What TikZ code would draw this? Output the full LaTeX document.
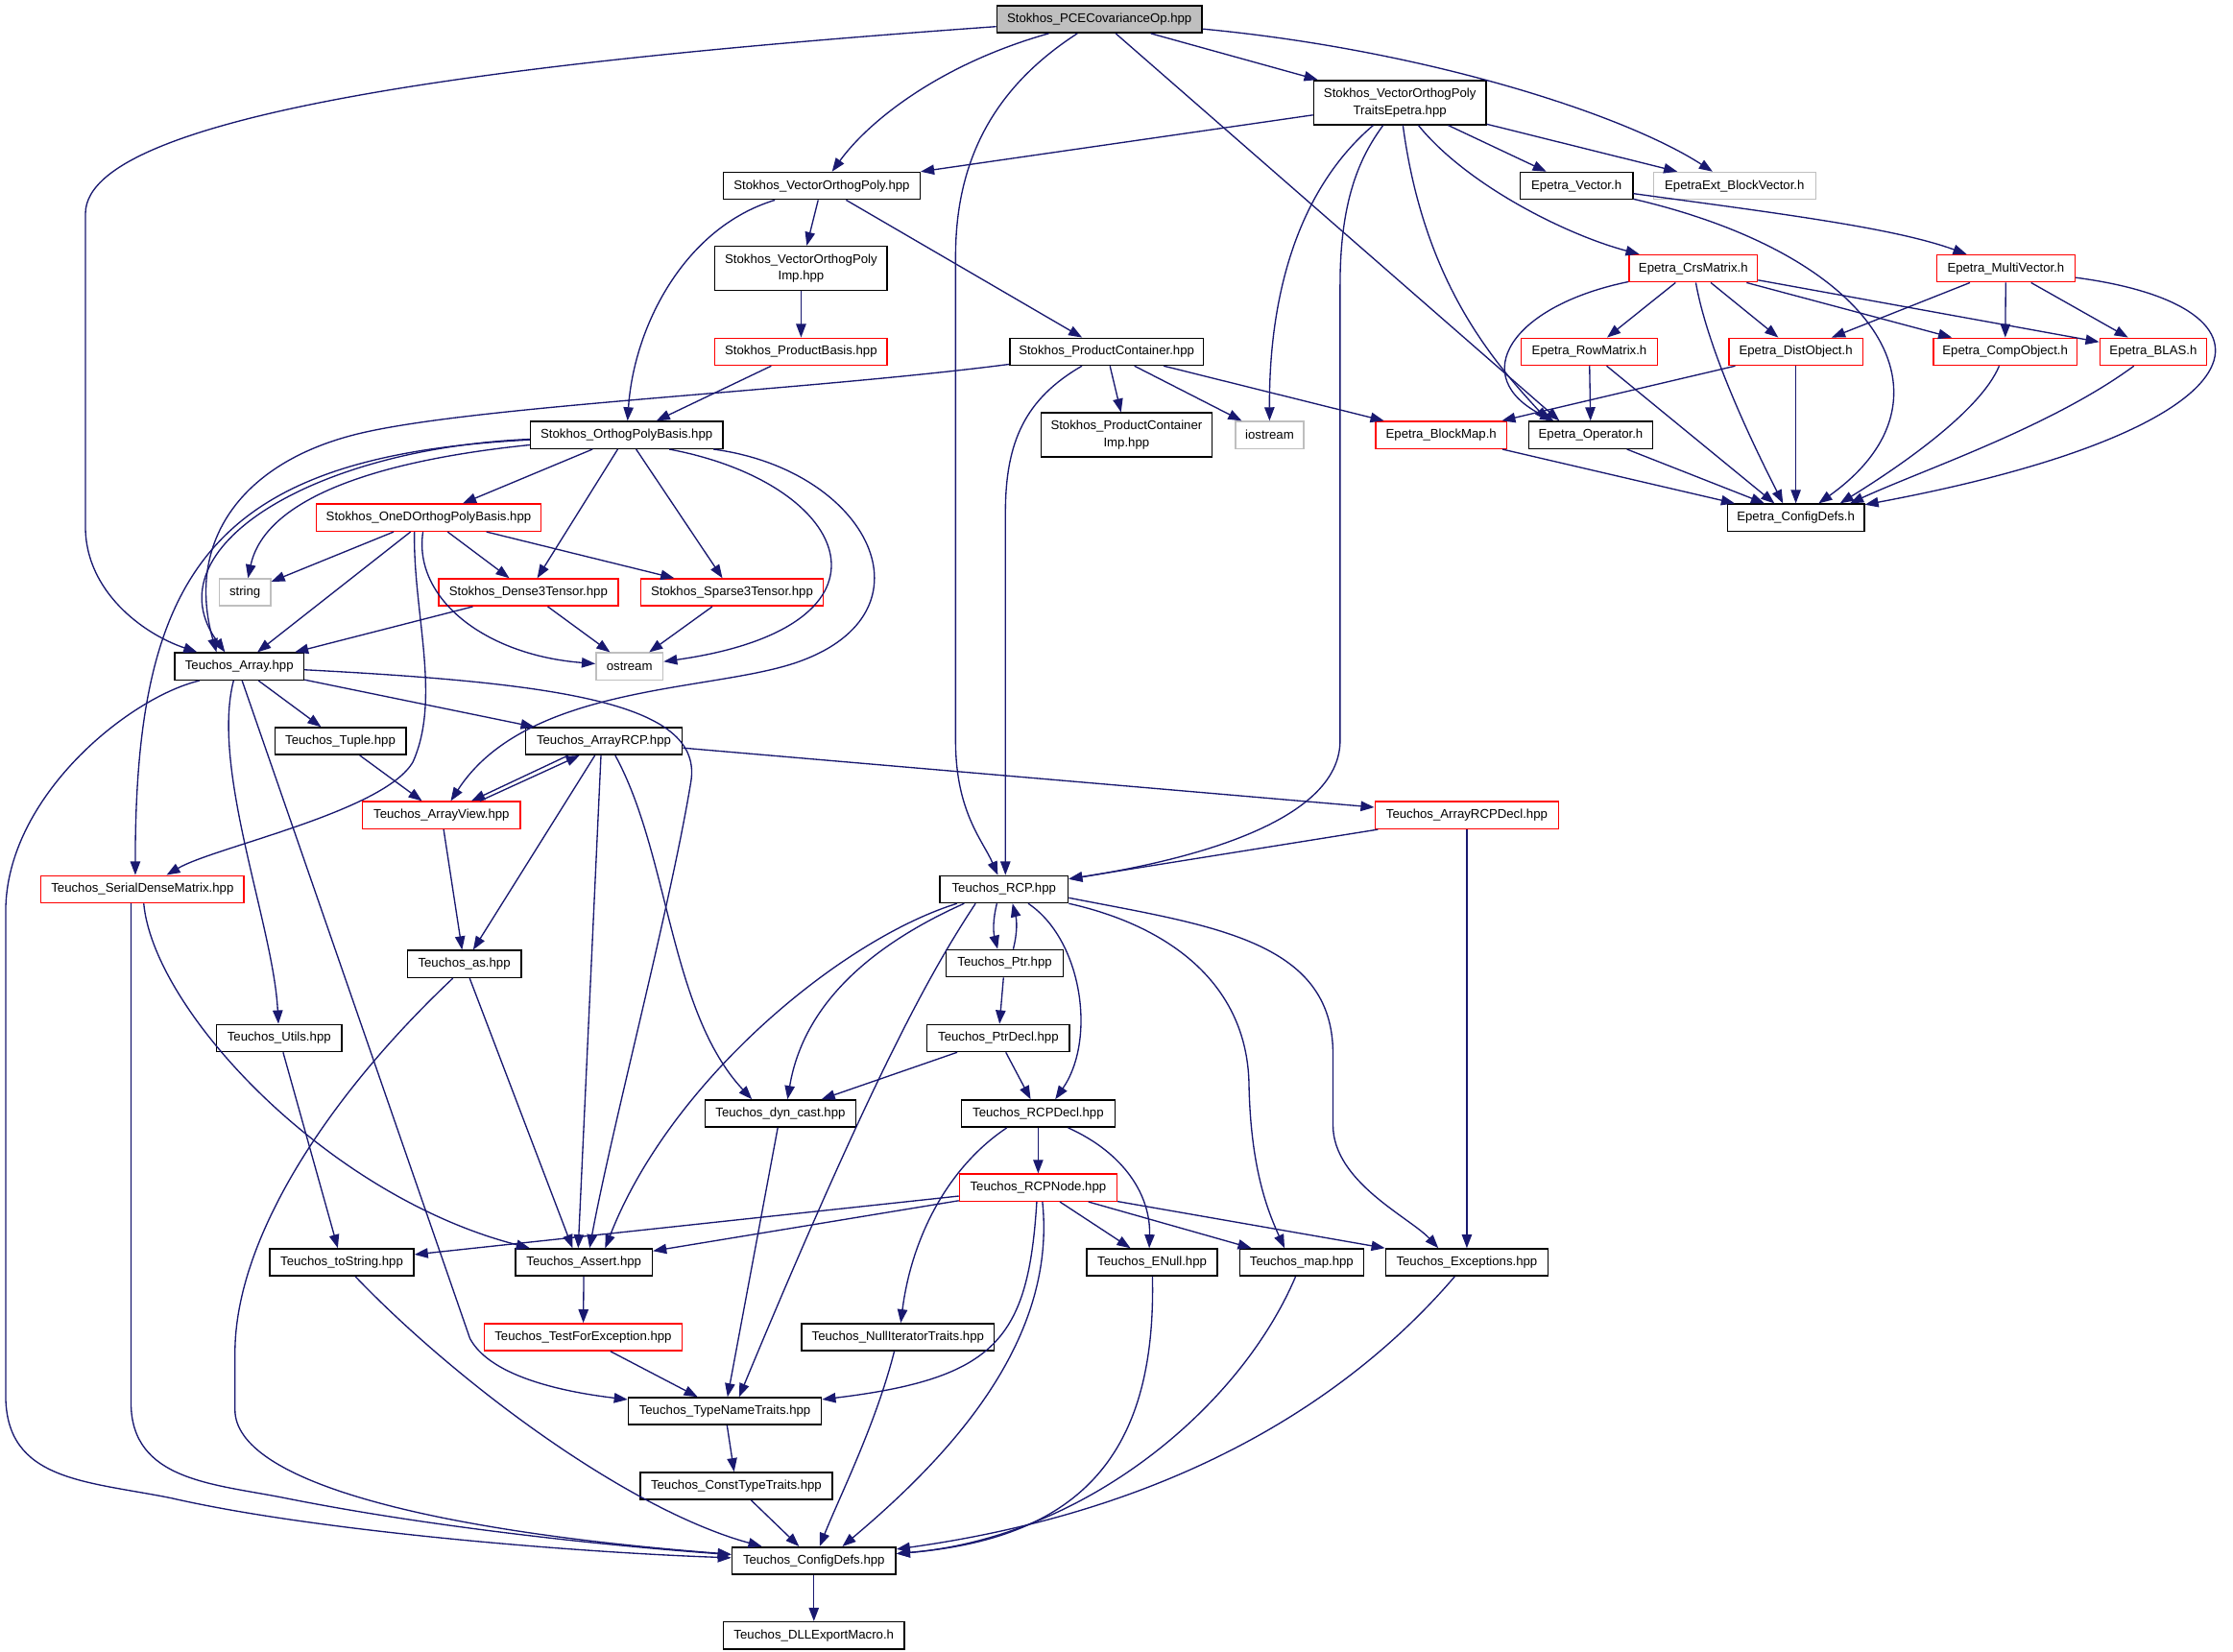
\documentclass[tikz,border=0pt]{standalone}
\usepackage{fontspec}
\setmainfont{Liberation Sans}
\usetikzlibrary{arrows.meta}
\definecolor{edgeblue}{HTML}{191970}
\definecolor{boxgray}{HTML}{BFBFBF}
\tikzset{
  box/.style={draw=black, line width=1pt, rectangle, fill=white, inner sep=0pt,
    minimum height=19pt, align=center, font=\fontsize{8.9}{12}\selectfont},
  redbox/.style={box, draw=red},
  graybox/.style={box, draw=boxgray},
  rootbox/.style={box, fill=boxgray},
  tall/.style={minimum height=31pt},
  edge/.style={draw=edgeblue, line width=0.9pt, -{Triangle[length=9.5pt,width=7pt]}},
}
\begin{document}
\begin{tikzpicture}[x=1pt,y=-1pt]
\fill[white] (0,0) rectangle (1568,1159.5);
\useasboundingbox (0,0) rectangle (1568,1159.5);

% Stokhos / Epetra headers
\node[rootbox, minimum width=144pt] (root) at (772,13.5) {Stokhos\_PCECovarianceOp.hpp};
\node[box, tall, minimum width=121pt] (traits) at (983,72) {Stokhos\_VectorOrthogPoly\\TraitsEpetra.hpp};
\node[box, minimum width=138pt] (vop) at (577,130.5) {Stokhos\_VectorOrthogPoly.hpp};
\node[box, minimum width=79pt] (evec) at (1107,130.5) {Epetra\_Vector.h};
\node[graybox, minimum width=114pt] (bvec) at (1218,130.5) {EpetraExt\_BlockVector.h};
\node[box, tall, minimum width=121pt] (vopimp) at (562.5,188.5) {Stokhos\_VectorOrthogPoly\\Imp.hpp};
\node[redbox, minimum width=90pt] (crs) at (1189,188.5) {Epetra\_CrsMatrix.h};
\node[redbox, minimum width=97pt] (mvec) at (1408.5,188.5) {Epetra\_MultiVector.h};
\node[redbox, minimum width=121pt] (pbasis) at (562.5,247) {Stokhos\_ProductBasis.hpp};
\node[box, minimum width=136pt] (pcont) at (777,247) {Stokhos\_ProductContainer.hpp};
\node[redbox, minimum width=96pt] (rowm) at (1116,247) {Epetra\_RowMatrix.h};
\node[redbox, minimum width=94pt] (dist) at (1261,247) {Epetra\_DistObject.h};
\node[redbox, minimum width=101pt] (comp) at (1408,247) {Epetra\_CompObject.h};
\node[redbox, minimum width=75pt] (blas) at (1512,247) {Epetra\_BLAS.h};
\node[box, minimum width=135pt] (opb) at (440,305.5) {Stokhos\_OrthogPolyBasis.hpp};
\node[box, tall, minimum width=120pt] (pcimp) at (791,305.5) {Stokhos\_ProductContainer\\Imp.hpp};
\node[graybox, minimum width=48pt] (ios) at (891.5,305.5) {iostream};
\node[redbox, minimum width=92pt] (bmap) at (1012,305.5) {Epetra\_BlockMap.h};
\node[box, minimum width=87pt] (eop) at (1117,305.5) {Epetra\_Operator.h};
\node[redbox, minimum width=158pt] (oned) at (301,363.5) {Stokhos\_OneDOrthogPolyBasis.hpp};
\node[box, minimum width=96pt] (ecfg) at (1261,363.5) {Epetra\_ConfigDefs.h};
\node[graybox, minimum width=36pt] (str) at (172,416) {string};
\node[redbox, minimum width=126pt] (dense) at (371,416) {Stokhos\_Dense3Tensor.hpp};
\node[redbox, minimum width=128pt] (sparse) at (514,416) {Stokhos\_Sparse3Tensor.hpp};

% Teuchos headers
\node[box, minimum width=90.5pt] (arr) at (168,468) {Teuchos\_Array.hpp};
\node[graybox, minimum width=47pt] (ost) at (442,468) {ostream};
\node[box, minimum width=92pt] (tuple) at (239,520.5) {Teuchos\_Tuple.hpp};
\node[box, minimum width=110pt] (arcp) at (424,520.5) {Teuchos\_ArrayRCP.hpp};
\node[redbox, minimum width=111pt] (av) at (310,572.5) {Teuchos\_ArrayView.hpp};
\node[redbox, minimum width=129pt] (arcpd) at (1030,572.5) {Teuchos\_ArrayRCPDecl.hpp};
\node[redbox, minimum width=142.5pt] (sdm) at (100,624.5) {Teuchos\_SerialDenseMatrix.hpp};
\node[box, minimum width=90pt] (rcp) at (705,624.5) {Teuchos\_RCP.hpp};
\node[box, minimum width=80pt] (tas) at (326,677) {Teuchos\_as.hpp};
\node[box, minimum width=82pt] (ptr) at (705.5,676.5) {Teuchos\_Ptr.hpp};
\node[box, minimum width=88pt] (utils) at (196,729) {Teuchos\_Utils.hpp};
\node[box, minimum width=100pt] (ptrd) at (701,729) {Teuchos\_PtrDecl.hpp};
\node[box, minimum width=106pt] (dync) at (548,782) {Teuchos\_dyn\_cast.hpp};
\node[box, minimum width=108pt] (rcpd) at (729,782) {Teuchos\_RCPDecl.hpp};
\node[redbox, minimum width=110.5pt] (rcpn) at (729,834) {Teuchos\_RCPNode.hpp};
\node[box, minimum width=101pt] (tstr) at (240,886.5) {Teuchos\_toString.hpp};
\node[box, minimum width=96pt] (asrt) at (410,886.5) {Teuchos\_Assert.hpp};
\node[box, minimum width=91.5pt] (enull) at (809,886.5) {Teuchos\_ENull.hpp};
\node[box, minimum width=87pt] (tmap) at (914,886.5) {Teuchos\_map.hpp};
\node[box, minimum width=114pt] (exc) at (1030,886.5) {Teuchos\_Exceptions.hpp};
\node[redbox, minimum width=139pt] (tfe) at (409.5,939) {Teuchos\_TestForException.hpp};
\node[box, minimum width=135pt] (nit) at (630.5,939) {Teuchos\_NullIteratorTraits.hpp};
\node[box, minimum width=135.6pt] (tnt) at (509,991) {Teuchos\_TypeNameTraits.hpp};
\node[box, minimum width=135pt] (ctt) at (517,1043.5) {Teuchos\_ConstTypeTraits.hpp};
\node[box, minimum width=115pt] (tcfg) at (571.5,1096) {Teuchos\_ConfigDefs.hpp};
\node[box, minimum width=127pt] (dll) at (571.5,1148.5) {Teuchos\_DLLExportMacro.h};

% root
\draw[edge] (root) .. controls (400,40) and (60,75) .. (60,150) -- (60,370) .. controls (60,415) and (100,445) .. (arr);
\draw[edge] (root) .. controls (660,45) and (610,85) .. (vop);
\draw[edge] (root) .. controls (700,60) and (671,110) .. (671,180) -- (671,520) .. controls (671,570) and (690,590) .. (rcp);
\draw[edge] (root) -- ([xshift=-22pt]eop.north);
\draw[edge] (root) -- (traits);
\draw[edge] (root) .. controls (1000,35) and (1140,80) .. (bvec);

% traits
\draw[edge] (traits) -- (vop);
\draw[edge] (traits) .. controls (915,130) and (891,200) .. (ios);
\draw[edge] (traits) .. controls (955,110) and (941,140) .. (941,200) -- (941,520) .. controls (941,570) and (860,600) .. (rcp);
\draw[edge] (traits) .. controls (1000,200) and (1050,255) .. ([xshift=-30pt]eop.north);
\draw[edge] (traits) .. controls (1030,130) and (1100,165) .. (crs);
\draw[edge] (traits) -- (evec);
\draw[edge] (traits) -- (bvec);

% vop, product container
\draw[edge] (vop) .. controls (480,160) and (445,230) .. (opb);
\draw[edge] (vop) -- (vopimp);
\draw[edge] (vop) -- (pcont);
\draw[edge] (vopimp) -- (pbasis);
\draw[edge] (pbasis) -- (opb);
\draw[edge] (pcont) .. controls (560,275) and (330,285) .. (250,305) .. controls (170,325) and (130,380) .. ([xshift=-16pt]arr.north);
\draw[edge] (pcont) .. controls (720,280) and (706,310) .. (706,360) -- ([xshift=1pt]rcp.north);
\draw[edge] (pcont) -- (pcimp);
\draw[edge] (pcont) -- (ios);
\draw[edge] (pcont) -- (bmap);

% epetra
\draw[edge] (evec) .. controls (1250,150) and (1330,160) .. (mvec);
\draw[edge] (evec) .. controls (1320,180) and (1380,280) .. ([xshift=16pt]ecfg.north);
\draw[edge] (crs) .. controls (1060,215) and (1030,265) .. ([xshift=-26pt]eop.north);
\draw[edge] (crs) -- (rowm);
\draw[edge] (crs) .. controls (1200,250) and (1235,320) .. ([xshift=-9pt]ecfg.north);
\draw[edge] (crs) -- (dist);
\draw[edge] (crs) -- (comp);
\draw[edge] (crs) -- (blas);
\draw[edge] (mvec) -- (dist);
\draw[edge] (mvec) -- (comp);
\draw[edge] (mvec) -- (blas);
\draw[edge] (mvec) .. controls (1610,215) and (1600,300) .. (ecfg);
\draw[edge] (rowm) -- (eop);
\draw[edge] (rowm) -- ([xshift=-15pt]ecfg.north);
\draw[edge] (dist) -- (bmap);
\draw[edge] (dist) -- (ecfg);
\draw[edge] (comp) .. controls (1390,290) and (1330,330) .. ([xshift=31pt]ecfg.north);
\draw[edge] (blas) .. controls (1440,300) and (1350,330) .. ([xshift=38pt]ecfg.north);
\draw[edge] (bmap) -- (ecfg);
\draw[edge] (eop) -- ([xshift=-22pt]ecfg.north);

% orthog poly basis
\draw[edge] (opb) .. controls (220,315) and (105,385) .. ([xshift=-10pt]arr.north);
\draw[edge] (opb) .. controls (150,320) and (95,400) .. ([xshift=-5pt]sdm.north);
\draw[edge] (opb) .. controls (250,325) and (185,355) .. (str);
\draw[edge] (opb) -- (oned);
\draw[edge] (opb) -- (dense);
\draw[edge] (opb) -- (sparse);
\draw[edge] ([xshift=30pt]opb.south) .. controls (600,340) and (640,440) .. (ost);
\draw[edge] ([xshift=61pt]opb.south) .. controls (610,330) and (660,430) .. (560,465) .. controls (500,486) and (370,480) .. (av);
\draw[edge] (oned) -- (str);
\draw[edge] (oned) -- (arr);
\draw[edge] (oned) -- (dense);
\draw[edge] (oned) -- (sparse);
\draw[edge] ([xshift=-4pt]oned.south) .. controls (290,420) and (340,460) .. (ost);
\draw[edge] ([xshift=-10pt]oned.south) .. controls (290,430) and (310,490) .. (290,535) .. controls (270,570) and (150,595) .. (sdm);
\draw[edge] (dense) -- (arr);
\draw[edge] (dense) -- (ost);
\draw[edge] (sparse) -- (ost);

% array
\draw[edge] (arr) -- (tuple);
\draw[edge] (arr) -- (arcp);
\draw[edge] (arr) .. controls (400,480) and (495,495) .. (485,550) .. controls (470,640) and (430,790) .. ([xshift=4pt]asrt.north);
\draw[edge] ([xshift=-4pt]arr.south) .. controls (148,540) and (192,650) .. (utils);
\draw[edge] ([xshift=2pt]arr.south) -- (330,940) .. controls (345,968) and (400,978) .. (tnt);
\draw[edge] ([xshift=-28pt]arr.south) .. controls (90,490) and (4,560) .. (4,640) -- (4,980) .. controls (4,1040) and (60,1040) .. (120,1052) .. controls (220,1075) and (400,1090) .. (tcfg);
\draw[edge] (tuple) -- (av);
\draw[edge] ([xshift=-25pt]arcp.south) -- ([xshift=21pt]av.north);
\draw[edge] ([xshift=27pt]av.north) -- ([xshift=-17pt]arcp.south);
\draw[edge] (arcp) -- (tas);
\draw[edge] ([xshift=-2pt]arcp.south) -- ([xshift=-4pt]asrt.north);
\draw[edge] ([xshift=8pt]arcp.south) .. controls (470,600) and (470,710) .. ([xshift=-20pt]dync.north);
\draw[edge] (arcp) -- (arcpd);
\draw[edge] (av) -- (tas);
\draw[edge] (arcpd) -- (rcp);
\draw[edge] (arcpd) -- (exc);
\draw[edge] (sdm) .. controls (108,710) and (230,840) .. ([xshift=-38pt]asrt.north);
\draw[edge] ([xshift=-8pt]sdm.south) -- (92,985) .. controls (92,1040) and (150,1042) .. (200,1052) .. controls (300,1072) and (420,1085) .. (tcfg);
\draw[edge] (tas) -- ([xshift=-8pt]asrt.north);
\draw[edge] ([xshift=-8pt]tas.south) .. controls (230,770) and (165,870) .. (165,950) -- (165,990) .. controls (165,1040) and (300,1075) .. (tcfg);

% rcp
\draw[edge] ([xshift=-5pt]rcp.south) .. controls +(-3,12) and +(-3,-12) .. ([xshift=-5pt]ptr.north);
\draw[edge] ([xshift=6pt]ptr.north) .. controls +(3,-12) and +(3,12) .. ([xshift=6pt]rcp.south);
\draw[edge] ([xshift=-33pt]rcp.south) .. controls (590,660) and (470,760) .. ([xshift=15pt]asrt.north);
\draw[edge] ([xshift=-28pt]rcp.south) .. controls (620,660) and (565,700) .. ([xshift=5pt]dync.north);
\draw[edge] ([xshift=-20pt]rcp.south) .. controls (655,680) and (615,750) .. ([xshift=10pt]tnt.north);
\draw[edge] ([xshift=17pt]rcp.south) .. controls (760,660) and (770,730) .. ([xshift=12pt]rcpd.north);
\draw[edge] (rcp.south east) .. controls (820,650) and (875,690) .. (877,760) .. controls (878,820) and (890,850) .. ([xshift=-12pt]tmap.north);
\draw[edge] ([yshift=-6pt]rcp.east) .. controls (850,650) and (936,660) .. (936,740) -- (936,790) .. controls (936,830) and (990,855) .. ([xshift=-20pt]exc.north);
\draw[edge] (ptr) -- (ptrd);
\draw[edge] (ptrd) -- (dync);
\draw[edge] (ptrd) -- (rcpd);
\draw[edge] (rcpd) -- (rcpn);
\draw[edge] ([xshift=21pt]rcpd.south) .. controls (790,810) and (808,840) .. ([xshift=-2pt]enull.north);
\draw[edge] ([xshift=-22pt]rcpd.south) .. controls (665,820) and (640,870) .. ([xshift=2pt]nit.north);
\draw[edge] (rcpn) -- (tstr);
\draw[edge] (rcpn) -- (asrt);
\draw[edge] (rcpn) -- (enull);
\draw[edge] (rcpn) -- (tmap);
\draw[edge] (rcpn) -- (exc);
\draw[edge] ([xshift=-1pt]rcpn.south) .. controls (722,940) and (700,968) .. (tnt);
\draw[edge] ([xshift=3pt]rcpn.south) .. controls (742,940) and (670,1020) .. ([xshift=20pt]tcfg.north);

% bottom
\draw[edge] (utils) -- (tstr);
\draw[edge] (tstr) .. controls (320,970) and (440,1060) .. (tcfg);
\draw[edge] (asrt) -- (tfe);
\draw[edge] (tfe) -- (tnt);
\draw[edge] (dync) -- (tnt);
\draw[edge] (nit) .. controls (615,1000) and (590,1050) .. (tcfg);
\draw[edge] (tnt) -- (ctt);
\draw[edge] (ctt) -- (tcfg);
\draw[edge] (enull) .. controls (812,1020) and (760,1080) .. (tcfg);
\draw[edge] (tmap) .. controls (870,990) and (760,1080) .. (tcfg);
\draw[edge] (exc) .. controls (950,980) and (830,1060) .. (tcfg);
\draw[edge] (tcfg) -- (dll);
\end{tikzpicture}
\end{document}
